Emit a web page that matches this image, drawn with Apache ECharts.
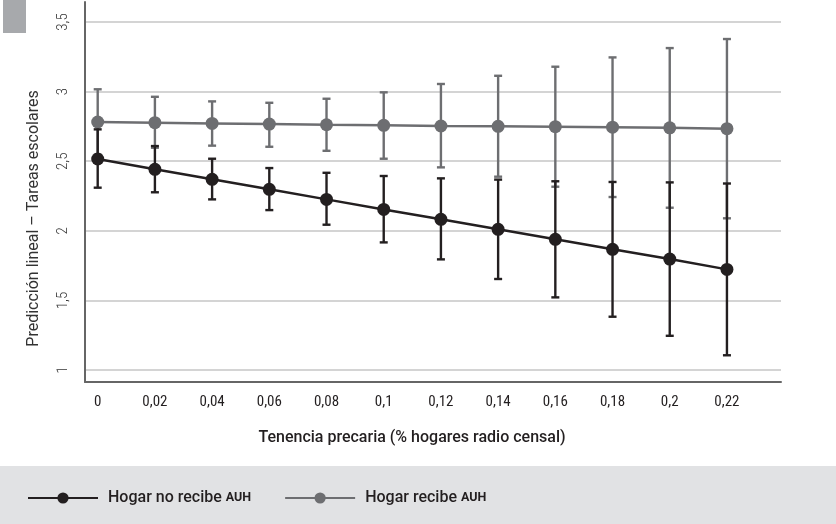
<!DOCTYPE html>
<html><head><meta charset="utf-8">
<script src="https://cdn.jsdelivr.net/npm/echarts@6/dist/echarts.min.js"></script>
<style>html,body{margin:0;padding:0;background:#fff}#c{width:836px;height:524px}</style>
</head><body><div id="c"></div>
<script>
const xValues = [0, 0.02, 0.04, 0.06, 0.08, 0.10, 0.12, 0.14, 0.16, 0.18, 0.20, 0.22];
const xTicks = [0, 0.02, 0.04, 0.06, 0.08, 0.10, 0.12, 0.14, 0.16, 0.18, 0.20, 0.22];
const yTicks = [1, 1.5, 2, 2.5, 3, 3.5];

const noRecibeMean  = [2.516, 2.442, 2.370, 2.298, 2.226, 2.154, 2.083, 2.011, 1.939, 1.867, 1.797, 1.723];
const noRecibeLower = [2.310, 2.277, 2.226, 2.149, 2.044, 1.917, 1.795, 1.654, 1.522, 1.383, 1.246, 1.106];
const noRecibeUpper = [2.729, 2.609, 2.518, 2.451, 2.417, 2.394, 2.377, 2.368, 2.356, 2.351, 2.348, 2.340];

const recibeMean  = [2.782, 2.777, 2.772, 2.767, 2.762, 2.758, 2.753, 2.751, 2.748, 2.745, 2.740, 2.734];
const recibeLower = [2.547, 2.597, 2.612, 2.604, 2.575, 2.518, 2.456, 2.389, 2.317, 2.243, 2.166, 2.090];
const recibeUpper = [3.017, 2.963, 2.930, 2.920, 2.949, 2.995, 3.055, 3.114, 3.179, 3.246, 3.313, 3.378];

const seriesNames = ['Hogar no recibe AUH', 'Hogar recibe AUH'];
const BLACK = '#231f20', GRAY = '#6d6e71';

const FONT = 'Roboto';
const FONT_C = "'Roboto Condensed', Roboto";
const chart = echarts.init(document.getElementById('c'), null, {renderer: 'canvas'});

function errData(lo, hi) { return xValues.map((x, i) => [x, lo[i], hi[i]]); }
function errSeries(name, color, lo, hi, z) {
  return {
    type: 'custom', name: name, z: z,
    data: errData(lo, hi),
    encode: {x: 0, y: [1, 2]},
    renderItem: function (params, api) {
      const x = api.value(0);
      const top = api.coord([x, api.value(2)]);
      const bot = api.coord([x, api.value(1)]);
      const w = 4;
      const st = {stroke: color, lineWidth: 2.4};
      return {type: 'group', children: [
        {type: 'line', shape: {x1: top[0], y1: top[1], x2: bot[0], y2: bot[1]}, style: st},
        {type: 'line', shape: {x1: top[0] - w, y1: top[1], x2: top[0] + w, y2: top[1]}, style: st},
        {type: 'line', shape: {x1: bot[0] - w, y1: bot[1], x2: bot[0] + w, y2: bot[1]}, style: st}
      ]};
    },
    silent: true
  };
}
const fmt = v => String(Math.round(v * 100) / 100).replace('.', ',');

chart.setOption({
  animation: false,
  textStyle: {fontFamily: FONT},
  graphic: [
    {type: 'rect', shape: {x: 3, y: 0, width: 23, height: 33}, style: {fill: '#a7a9ac'}, z: -10},
    {type: 'rect', shape: {x: 0, y: 466, width: 836, height: 58}, style: {fill: '#e1e2e4'}, z: -10}
  ],
  grid: {left: 85, right: 55, top: 2, bottom: 142},
  legend: {
    data: seriesNames,
    left: 27, top: 490, padding: 0,
    itemWidth: 70, itemHeight: 14, itemGap: 33,
    formatter: n => n.replace('AUH', '{s|AUH}'),
    textStyle: {fontFamily: FONT, fontSize: 16, fontWeight: 500, color: BLACK, padding: [0, 0, 0, 5],
      rich: {s: {fontFamily: FONT, fontSize: 12.5, fontWeight: 700, color: BLACK}}}
  },
  xAxis: {
    type: 'value', min: -0.00444, max: 0.2389,
    name: 'Tenencia precaria (% hogares radio censal)',
    nameLocation: 'middle', nameGap: 48,
    nameTextStyle: {fontFamily: FONT, fontSize: 16, fontWeight: 500, color: BLACK, padding: [0, 42, 0, 0]},
    axisLine: {show: true, onZero: false, lineStyle: {color: '#666', width: 2}},
    axisTick: {show: false},
    splitLine: {show: false},
    axisLabel: {customValues: xTicks, formatter: fmt, margin: 13, fontSize: 15, color: BLACK, fontFamily: FONT_C}
  },
  yAxis: {
    type: 'value', min: 0.914, max: 3.644,
    name: 'Predicción lineal – Tareas escolares',
    nameLocation: 'middle', nameGap: 43,
    nameTextStyle: {fontFamily: FONT, fontSize: 16, fontWeight: 400, color: '#333', padding: [0, 53, 0, 0]},
    axisLine: {show: true, onZero: false, lineStyle: {color: '#666', width: 2}},
    axisTick: {show: false, customValues: yTicks},
    splitLine: {show: true, lineStyle: {color: '#d4d4d4', width: 1.8}},
    axisLabel: {customValues: yTicks, formatter: fmt, rotate: 90, margin: 14, fontSize: 15, fontWeight: 300, color: '#333', fontFamily: FONT_C}
  },
  series: [
    errSeries('err-recibe', GRAY, recibeLower, recibeUpper, 2),
    {
      type: 'line', name: seriesNames[1], z: 3,
      data: xValues.map((x, i) => [x, recibeMean[i]]),
      symbol: 'circle', symbolSize: 13,
      lineStyle: {color: GRAY, width: 2.5},
      itemStyle: {color: GRAY}
    },
    errSeries('err-no', BLACK, noRecibeLower, noRecibeUpper, 4),
    {
      type: 'line', name: seriesNames[0], z: 5,
      data: xValues.map((x, i) => [x, noRecibeMean[i]]),
      symbol: 'circle', symbolSize: 13,
      lineStyle: {color: BLACK, width: 2.5},
      itemStyle: {color: BLACK}
    }
  ]
});
</script>
</body></html>
